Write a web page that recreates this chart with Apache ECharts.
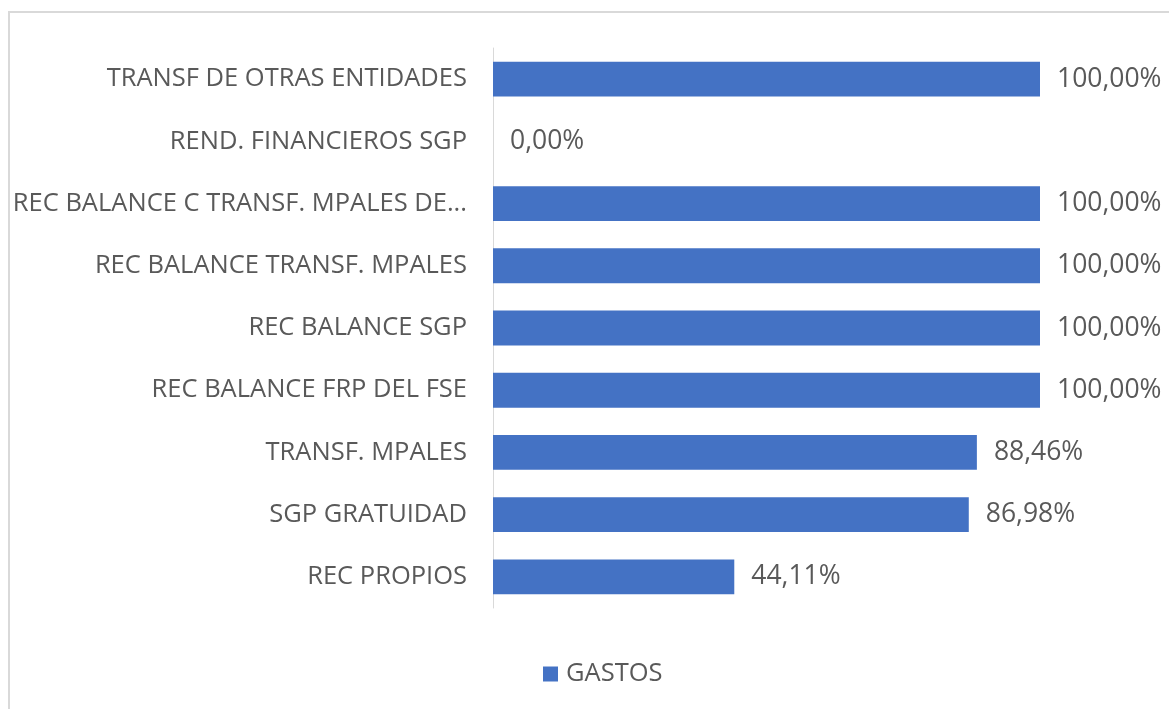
<!DOCTYPE html>
<html lang="es">
<head>
    <meta charset="UTF-8">
    <title>GASTOS</title>
    <script src="https://cdn.jsdelivr.net/npm/echarts@6/dist/echarts.min.js"></script>
    <style>
        html, body { margin: 0; padding: 0; background: #fff; }
        #chart { width: 1169px; height: 709px; }
    </style>
</head>
<body>
    <div id="chart"></div>
    <script>
        // categorias de abajo hacia arriba
        const categories = [
            'REC PROPIOS',
            'SGP GRATUIDAD',
            'TRANSF. MPALES',
            'REC BALANCE FRP DEL FSE',
            'REC BALANCE SGP',
            'REC BALANCE TRANSF. MPALES',
            'REC BALANCE C TRANSF. MPALES DE...',
            'REND. FINANCIEROS SGP',
            'TRANSF DE OTRAS ENTIDADES'
        ];
        const gastos = [44.11, 86.98, 88.46, 100, 100, 100, 100, 0, 100];
        const seriesName = 'GASTOS';

        const textColor = '#595959';
        const fontFamily = '"Open Sans", "Liberation Sans", sans-serif';

        const chart = echarts.init(document.getElementById('chart'));
        chart.setOption({
            animation: false,
            textStyle: { fontFamily: fontFamily },
            graphic: [{
                type: 'rect',
                shape: { x: 9, y: 12, width: 1300, height: 900 },
                style: { fill: 'none', stroke: '#d9d9d9', lineWidth: 2 },
                silent: true
            }],
            grid: { left: 493, right: 129, top: 48, bottom: 101, containLabel: false },
            legend: {
                data: [seriesName],
                top: 656,
                left: 538,
                icon: 'rect',
                itemWidth: 15,
                itemHeight: 15,
                itemGap: 9,
                textStyle: { color: textColor, fontSize: 25.5, fontFamily: fontFamily, padding: [0, 0, 0, 3] }
            },
            xAxis: {
                type: 'value',
                min: 0,
                max: 100,
                show: false
            },
            yAxis: {
                type: 'category',
                data: categories,
                axisLine: { show: true, lineStyle: { color: '#d9d9d9', width: 1 } },
                axisTick: { show: false },
                axisLabel: { color: textColor, fontSize: 25.5, margin: 26, fontFamily: fontFamily }
            },
            series: [{
                name: seriesName,
                type: 'bar',
                data: gastos,
                barCategoryGap: '44%',
                itemStyle: { color: '#4472c4' },
                label: {
                    show: true,
                    position: 'right',
                    distance: 17,
                    color: textColor,
                    fontSize: 26.5,
                    fontFamily: fontFamily,
                    formatter: function (p) {
                        return p.value.toFixed(2).replace('.', ',') + '%';
                    }
                }
            }]
        });
    </script>
</body>
</html>
